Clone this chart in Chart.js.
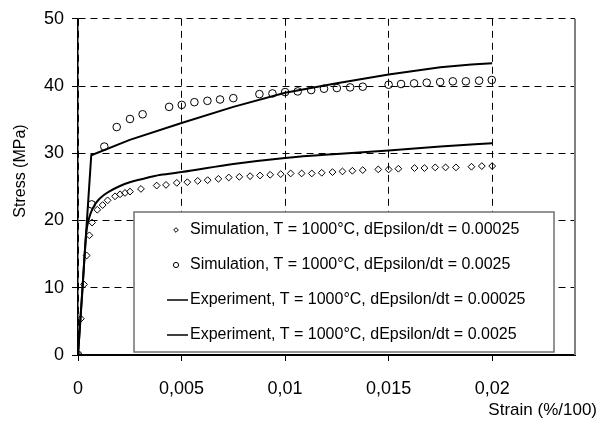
<!DOCTYPE html>
<html>
<head>
<meta charset="utf-8">
<script src="https://cdn.jsdelivr.net/npm/chart.js@4.4.1/dist/chart.umd.min.js"></script>
<style>
    html, body { margin: 0; padding: 0; background: #fff; }
    #wrap { width: 608px; height: 430px; }
</style>
</head>
<body>
<div id="wrap"><canvas id="stressChart"></canvas></div>
<script>
/* Stress-strain at 1000 C - simulation points vs experimental curves */

const FONT = '"Liberation Sans", Arial, sans-serif';

/* Simulation, dEpsilon/dt = 0.00025 (diamonds) */
const simSlowStrain = [0, 0.00014, 0.00029, 0.00042, 0.00055, 0.00068, 0.00093, 0.00119, 0.00143, 0.00179,
    0.00203, 0.00227, 0.00251, 0.00304, 0.0038, 0.00425, 0.00477, 0.00528, 0.00578, 0.00626,
    0.00678, 0.00728, 0.00779, 0.00831, 0.00879, 0.00928, 0.00979, 0.01027, 0.0108, 0.01129,
    0.01177, 0.01229, 0.01277, 0.01325, 0.01375, 0.0145, 0.015, 0.01547, 0.01625, 0.01673,
    0.01725, 0.01775, 0.01825, 0.019, 0.0195, 0.02];
const simSlowStress = [0, 5.4, 10.5, 14.8, 17.8, 19.7, 21.6, 22.3, 23.0, 23.6,
    23.9, 24.1, 24.3, 24.7, 25.2, 25.3, 25.6, 25.7, 25.9, 26.0,
    26.2, 26.4, 26.5, 26.6, 26.7, 26.8, 26.9, 27.0, 27.0, 27.0,
    27.1, 27.2, 27.3, 27.4, 27.5, 27.6, 27.6, 27.7, 27.8, 27.8,
    27.9, 27.9, 27.9, 28.0, 28.1, 28.1];

/* Simulation, dEpsilon/dt = 0.0025 (circles) */
const simFastStrain = [0, 0.00066, 0.00127, 0.00187, 0.00251, 0.00312, 0.0044, 0.00501, 0.00562, 0.00625,
    0.00686, 0.0075, 0.00876, 0.00939, 0.01, 0.01061, 0.01126, 0.01188, 0.0125, 0.01314,
    0.01375, 0.015, 0.0156, 0.01623, 0.01684, 0.01749, 0.0181, 0.01873, 0.01937, 0.01998];
const simFastStress = [0, 22.4, 31.0, 33.9, 35.1, 35.8, 36.9, 37.2, 37.6, 37.8,
    38.0, 38.2, 38.8, 38.9, 39.1, 39.2, 39.4, 39.6, 39.7, 39.8,
    39.9, 40.2, 40.3, 40.4, 40.5, 40.6, 40.7, 40.7, 40.8, 40.9];

/* Experiment, dEpsilon/dt = 0.00025 */
const expSlowStrain = [0, 0.0002, 0.0004, 0.0005, 0.0006, 0.0008, 0.001, 0.00125, 0.0015, 0.002,
    0.0025, 0.003, 0.004, 0.005, 0.0075, 0.01, 0.0125, 0.015, 0.0175, 0.02];
const expSlowStress = [0, 9, 18.2, 19.9, 21.0, 22.3, 23.1, 23.8, 24.3, 25.1,
    25.7, 26.1, 26.8, 27.2, 28.4, 29.3, 29.9, 30.4, 31.0, 31.5];

/* Experiment, dEpsilon/dt = 0.0025 */
const expFastStrain = [0, 0.00064, 0.0025, 0.005, 0.0075, 0.01, 0.0125, 0.015, 0.0175, 0.019, 0.02];
const expFastStress = [0, 29.7, 32.0, 34.5, 36.9, 39.0, 40.4, 41.7, 42.8, 43.2, 43.4];

const seriesLabels = [
    'Simulation, T = 1000\u00B0C, dEpsilon/dt = 0.00025',
    'Simulation, T = 1000\u00B0C, dEpsilon/dt = 0.0025',
    'Experiment, T = 1000\u00B0C, dEpsilon/dt = 0.00025',
    'Experiment, T = 1000\u00B0C, dEpsilon/dt = 0.0025'
];

const strainMax = 0.024;
const strainStep = 0.005;
const stressMax = 50;
const stressStep = 10;

function toPoints(xs, ys) {
    return xs.map((x, i) => ({ x: x, y: ys[i] }));
}

/* legend box drawn inside the plot, like the spreadsheet original */
const boxLegend = {
    id: 'boxLegend',
    afterDatasetsDraw(chart) {
        const ctx = chart.ctx;
        const area = chart.chartArea;
        ctx.save();

        /* right frame line */
        ctx.strokeStyle = '#808080';
        ctx.lineWidth = 2;
        ctx.beginPath();
        ctx.moveTo(area.right, area.top);
        ctx.lineTo(area.right, area.bottom);
        ctx.stroke();

        const bx = 134, by = 212, bw = 420, bh = 140;
        ctx.fillStyle = '#fff';
        ctx.fillRect(bx, by, bw, bh);
        ctx.strokeStyle = '#707070';
        ctx.lineWidth = 1.5;
        ctx.strokeRect(bx, by, bw, bh);

        ctx.font = '16px ' + FONT;
        ctx.textBaseline = 'middle';
        ctx.textAlign = 'left';
        chart.data.datasets.forEach((ds, i) => {
            const y = by + 18 + i * 35;
            const mx = 176;
            ctx.strokeStyle = '#000';
            ctx.fillStyle = '#fff';
            ctx.lineWidth = 1;
            if (ds.pointStyle === 'rectRot') {
                ctx.beginPath();
                ctx.moveTo(mx - 2.3, y);
                ctx.lineTo(mx, y - 2.3);
                ctx.lineTo(mx + 2.3, y);
                ctx.lineTo(mx, y + 2.3);
                ctx.closePath();
                ctx.fill();
                ctx.stroke();
            } else if (ds.showLine === false) {
                ctx.beginPath();
                ctx.arc(mx, y, 2.6, 0, Math.PI * 2);
                ctx.fill();
                ctx.stroke();
            } else {
                ctx.lineWidth = 1.5;
                ctx.beginPath();
                ctx.moveTo(167, y);
                ctx.lineTo(188, y);
                ctx.stroke();
            }
            ctx.fillStyle = '#000';
            ctx.fillText(ds.label, 190, y);
        });
        ctx.restore();
    },
    afterDraw(chart) {
        const ctx = chart.ctx;
        ctx.save();
        ctx.fillStyle = '#000';
        ctx.font = '17px ' + FONT;
        ctx.textBaseline = 'middle';
        ctx.textAlign = 'right';
        ctx.fillText('Strain (%/100)', 597, 410);

        ctx.translate(21, 171);
        ctx.rotate(-Math.PI / 2);
        ctx.textAlign = 'center';
        ctx.font = '16px ' + FONT;
        ctx.fillText('Stress (MPa)', 0, 0);
        ctx.restore();
    }
};

document.addEventListener('DOMContentLoaded', () => {
    const ctx = document.getElementById('stressChart').getContext('2d');
    new Chart(ctx, {
        type: 'scatter',
        data: {
            datasets: [{
                label: seriesLabels[0],
                data: toPoints(simSlowStrain, simSlowStress),
                showLine: false,
                pointStyle: 'rectRot',
                pointRadius: 3.4,
                pointBackgroundColor: 'rgba(255,255,255,0)',
                pointBorderColor: '#000',
                pointBorderWidth: 1,
                order: 1
            }, {
                label: seriesLabels[1],
                data: toPoints(simFastStrain, simFastStress),
                showLine: false,
                pointStyle: 'circle',
                pointRadius: 3.8,
                pointBackgroundColor: 'rgba(255,255,255,0)',
                pointBorderColor: '#000',
                pointBorderWidth: 1,
                order: 2
            }, {
                label: seriesLabels[2],
                data: toPoints(expSlowStrain, expSlowStress),
                showLine: true,
                borderColor: '#000',
                borderWidth: 2,
                pointRadius: 0,
                cubicInterpolationMode: 'monotone',
                order: 3
            }, {
                label: seriesLabels[3],
                data: toPoints(expFastStrain, expFastStress),
                showLine: true,
                borderColor: '#000',
                borderWidth: 2,
                pointRadius: 0,
                tension: 0,
                order: 4
            }]
        },
        options: {
            responsive: true,
            maintainAspectRatio: false,
            animation: false,
            layout: {
                padding: { left: 0, top: 14, right: 33, bottom: 0 }
            },
            plugins: {
                legend: { display: false },
                tooltip: { enabled: false }
            },
            scales: {
                x: {
                    type: 'linear',
                    min: 0,
                    max: strainMax,
                    afterFit: scale => { scale.height = 75; },
                    ticks: {
                        stepSize: strainStep,
                        includeBounds: false,
                        color: '#000',
                        padding: 17,
                        maxRotation: 0,
                        font: { family: FONT, size: 18 },
                        callback: value => String(+value.toFixed(4)).replace('.', ',')
                    },
                    grid: {
                        color: '#000',
                        lineWidth: 1,
                        tickLength: 6,
                        tickColor: '#000'
                    },
                    border: {
                        color: '#000',
                        width: 2,
                        dash: [7, 5]
                    }
                },
                y: {
                    type: 'linear',
                    min: 0,
                    max: stressMax,
                    afterFit: scale => { scale.width = 78; },
                    ticks: {
                        stepSize: stressStep,
                        color: '#000',
                        padding: 8,
                        font: { family: FONT, size: 18 }
                    },
                    grid: {
                        color: '#000',
                        lineWidth: 1,
                        tickLength: 6,
                        tickColor: '#000'
                    },
                    border: {
                        color: '#000',
                        width: 1.5,
                        dash: [7, 5]
                    }
                }
            }
        },
        plugins: [boxLegend]
    });
});
</script>
</body>
</html>
